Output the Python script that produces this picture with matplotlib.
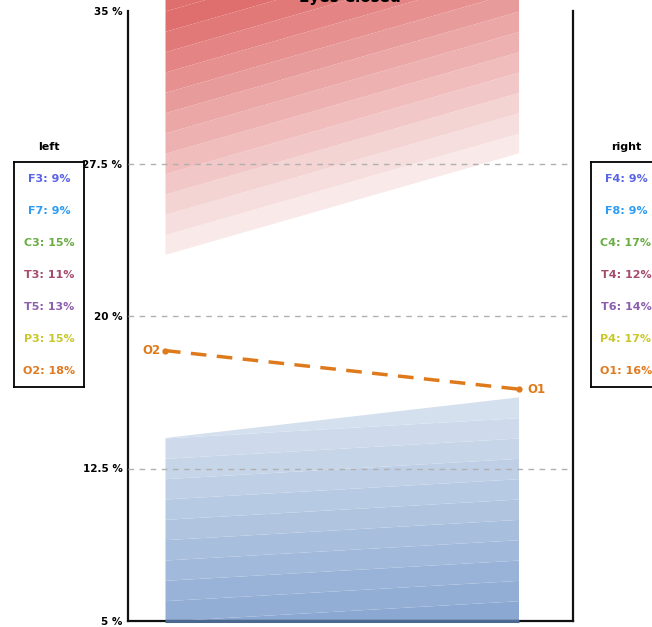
#!/bin/env python3
"""
Eyes closed: left / right channel band chart.
"""
import numpy as np
import matplotlib
matplotlib.use('Agg')
import matplotlib.pyplot as plt
from matplotlib.patches import Polygon

# data
x_pos = [0.0, 1.0]  # left side, right side
red_bottom = [23.0, 28.0]  # lower edge of red region, %
red_top = [35.0, 35.0]
blue_bottom = [5.0, 5.0]
blue_top = [14.0, 16.0]  # upper edge of blue region, %
o_line = [18.3, 16.4]  # O2 -> O1
o_names = ['O2', 'O1']
y_ticks = [5, 12.5, 20, 27.5, 35]
y_tick_labels = ['5 %', '12.5 %', '20 %', '27.5 %', '35 %']
grid_ticks = [12.5, 20, 27.5]

left_names = ['F3', 'F7', 'C3', 'T3', 'T5', 'P3', 'O2']
left_pct = [9, 9, 15, 11, 13, 15, 18]
right_names = ['F4', 'F8', 'C4', 'T4', 'T6', 'P4', 'O1']
right_pct = [9, 9, 17, 12, 14, 17, 16]
chan_colors = ['#5a64e6', '#2e9cf4', '#6aad44', '#a44b6f', '#8c5fae', '#c8c828', '#e07a20']

W, H = 652, 627
fig = plt.figure(figsize=(W / 100, H / 100), dpi=100)
ax = fig.add_axes([128 / W, 6 / H, 445 / W, 610 / H])
ax.set_xlim(-0.1045, 1.1525)
ax.set_ylim(5, 35)

x = np.array(x_pos)

# red region: stripes parallel to the lower edge, darker upwards
red_region = Polygon([(x[0], red_bottom[0]), (x[1], red_bottom[1]),
                      (x[1], red_top[1] + 5), (x[0], red_top[0] + 5)], closed=True,
                     facecolor='none', edgecolor='none')
ax.add_patch(red_region)
n_red = 13
light_r = np.array([249, 233, 233]) / 255
dark_r = np.array([223, 110, 110]) / 255
for k in range(n_red):
    lo = np.array(red_bottom) + k
    hi = lo + 1
    c = light_r + (dark_r - light_r) * min(k, 11) / 11
    p = ax.fill_between(x, lo, hi, color=c, lw=0, zorder=1)
    p.set_clip_path(red_region)

# blue region: stripes rising 1 % left to right, darker downwards
blue_region = Polygon([(x[0], blue_bottom[0]), (x[1], blue_bottom[1]),
                       (x[1], blue_top[1]), (x[0], blue_top[0])], closed=True,
                      facecolor='none', edgecolor='none')
ax.add_patch(blue_region)
light_b = np.array([213, 224, 238]) / 255
dark_b = np.array([138, 168, 210]) / 255
levels = list(range(4, 15))
for i, j in enumerate(levels):
    lo = np.array([j, j + 1], dtype=float)
    hi = lo + 1
    if j == 14:
        hi = np.array([blue_top[0] + 2, blue_top[1] + 1])
    c = dark_b + (light_b - dark_b) * i / (len(levels) - 1)
    p = ax.fill_between(x, lo, hi, color=c, lw=0, zorder=1)
    p.set_clip_path(blue_region)
ax.plot(x, blue_bottom, color='#4a6890', lw=2.2, zorder=5, clip_on=False,
        solid_capstyle='butt')

# grid
for g in grid_ticks:
    ax.axhline(g, color='#b0b0b0', lw=1, ls=(0, (4, 4)), zorder=3)

# O line
orange = '#df7a1c'
ax.plot(x, o_line, color=orange, lw=2.5, ls=(0, (4.5, 3)), zorder=4)
ax.plot(x, o_line, 'o', color=orange, ms=3.5, zorder=4)
ax.text(x[0] - 0.012, o_line[0], o_names[0], color=orange, fontsize=8.5,
        weight='bold', ha='right', va='center')
ax.text(x[1] + 0.025, o_line[1], o_names[1], color=orange, fontsize=8.5,
        weight='bold', ha='left', va='center')

# axes styling
ax.set_yticks(y_ticks)
ax.set_yticklabels(y_tick_labels, fontsize=7.5, weight='bold')
ax.tick_params(axis='y', length=0, pad=4)
ax.set_xticks([])
for s in ['left', 'right', 'bottom']:
    ax.spines[s].set_linewidth(1.6)
    ax.spines[s].set_color('#111111')
ax.spines['top'].set_visible(False)

fig.text(350 / W, 1 - 2 / H, 'Eyes Closed', ha='center', va='baseline',
         fontsize=11, weight='bold')


# side boxes
def side_box(x0, title, names, pcts):
    bx = fig.add_axes([x0 / W, (H - 387) / H, 70 / W, 225 / H])
    bx.set_xlim(0, 1)
    bx.set_ylim(387, 162)
    bx.set_xticks([])
    bx.set_yticks([])
    for s in bx.spines.values():
        s.set_linewidth(1.3)
    for i, (n, v) in enumerate(zip(names, pcts)):
        bx.text(0.5, 179 + 32 * i, f'{n}: {v}%', color=chan_colors[i],
                fontsize=8, weight='bold', ha='center', va='center')
    fig.text((x0 + 35) / W, 1 - 147 / H, title, ha='center', va='center',
             fontsize=8, weight='bold')


side_box(14, 'left', left_names, left_pct)
side_box(591, 'right', right_names, right_pct)

fig.savefig('out.png', dpi=100)
